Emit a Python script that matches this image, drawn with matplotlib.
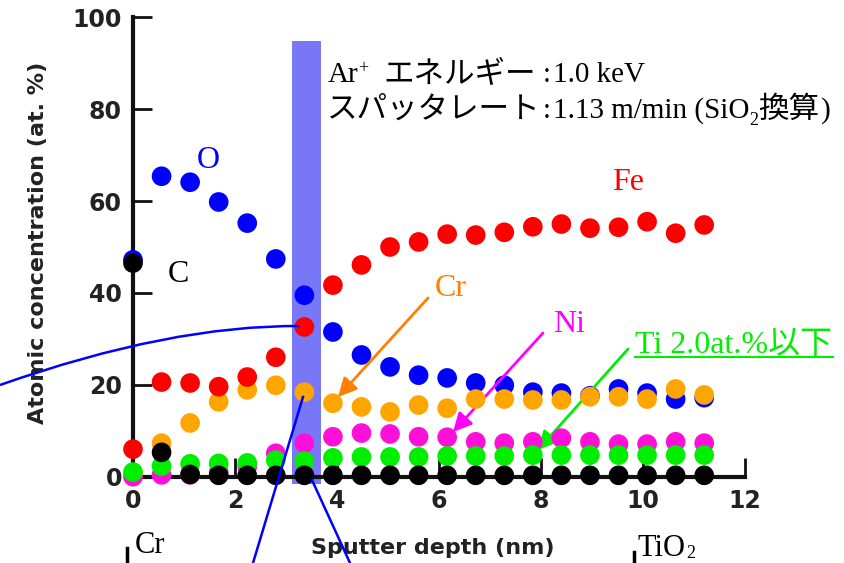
import matplotlib.pyplot as plt
from matplotlib.lines import Line2D
from matplotlib.patches import PathPatch, Rectangle
from matplotlib.path import Path

# sputter depth (nm) and atomic concentrations (at.%)
depth = [0.0, 0.56, 1.12, 1.68, 2.24, 2.80, 3.36, 3.92, 4.48, 5.04, 5.60,
         6.16, 6.72, 7.28, 7.84, 8.40, 8.96, 9.52, 10.08, 10.64, 11.20]
o_vals = [47.2, 65.4, 64.1, 59.8, 55.2, 47.4, 39.5, 31.5, 26.5, 23.9, 22.1,
          21.5, 20.4, 19.9, 18.4, 18.2, 17.6, 19.1, 18.2, 16.9, 17.2]
cr_vals = [0.5, 7.3, 11.7, 16.3, 18.9, 19.9, 18.4, 16.0, 15.2, 14.1, 15.6,
           14.9, 16.9, 16.9, 16.7, 16.7, 17.4, 17.4, 16.9, 19.1, 17.8]
fe_vals = [6.0, 20.6, 20.4, 19.6, 21.7, 26.0, 32.6, 41.7, 46.1, 50.0, 51.1,
           52.8, 52.6, 53.2, 54.4, 55.0, 54.1, 54.3, 55.5, 53.0, 54.8]
ni_vals = [0.0, 0.4, 0.4, 1.0, 2.2, 5.1, 7.3, 8.7, 9.5, 9.3, 8.7,
           8.6, 7.6, 7.3, 7.6, 8.4, 7.6, 7.1, 7.1, 7.6, 7.3]
ti_vals = [1.0, 2.3, 2.8, 2.9, 3.0, 3.6, 3.4, 4.1, 4.3, 4.3, 4.3,
           4.5, 4.5, 4.5, 4.7, 4.7, 4.7, 4.7, 4.7, 4.7, 4.7]
c_vals = [46.5, 5.3, 0.5, 0.3, 0.3, 0.3, 0.3, 0.3, 0.3, 0.3, 0.3,
          0.3, 0.3, 0.3, 0.3, 0.3, 0.3, 0.3, 0.3, 0.3, 0.3]

series = [
    (o_vals, '#0000ff'),
    (cr_vals, '#ffa500'),
    (fe_vals, '#ff0000'),
    (ni_vals, '#ff10d8'),
    (ti_vals, '#00ee00'),
    (c_vals, '#000000'),
]

W, H = 845, 563
SERIF = 'Liberation Serif'
CJK = 'Noto Sans CJK JP'
serif_list = [SERIF, CJK]

fig = plt.figure(figsize=(8.45, 5.63), dpi=100)
ax = fig.add_axes([133 / W, 1 - 476.7 / H, 612 / W, 459.4 / H])
ax.set_xlim(0, 12)
ax.set_ylim(0, 100)

# highlighted depth slice
ax.add_patch(Rectangle((3.12, -1.5), 0.57, 96.3, color='#7878f6',
                       zorder=2, clip_on=False, lw=0))

for i, (vals, col) in enumerate(series):
    ax.scatter(depth, vals, s=200, color=col, edgecolors='none',
               zorder=3 + i, clip_on=False)

for side in ['top', 'right']:
    ax.spines[side].set_visible(False)
for side in ['left', 'bottom']:
    ax.spines[side].set_linewidth(3)
    ax.spines[side].set_color('#111111')
    ax.spines[side].set_zorder(2.5)

ax.set_xticks([0, 2, 4, 6, 8, 10, 12])
ax.set_yticks([0, 20, 40, 60, 80, 100])
ax.tick_params(axis='both', direction='in', length=14, width=2,
               color='#111111', labelsize=17, labelcolor='#222222')
ax.tick_params(axis='y', pad=8)
ax.tick_params(axis='x', pad=9)
for lab in ax.get_xticklabels() + ax.get_yticklabels():
    lab.set_fontweight('bold')

ax.set_ylabel('Atomic concentration (at. %)', fontsize=16, fontweight='bold',
              color='#222222', va='center')
ax.yaxis.set_label_coords(-0.155, 0.51)
ax.set_xlabel('Sputter depth (nm)', fontsize=16, fontweight='bold',
              color='#222222', va='center')
ax.xaxis.set_label_coords(0.49, -0.155)


def put(x, y, s, size=22, family=SERIF, **kw):
    # text placed by its left edge and baseline, in pixels from top-left
    fig.text(x / W, 1 - y / H, s, fontsize=size, family=family,
             ha='left', va='baseline', **kw)


def arrow(x0, y0, x1, y1, col):
    ax.annotate('', xy=(x1, H - y1), xycoords='figure pixels',
                xytext=(x0, H - y0), textcoords='figure pixels',
                arrowprops=dict(arrowstyle='-|>', color=col, lw=2,
                                mutation_scale=28, shrinkA=0, shrinkB=0))


# element labels
fig.text(208 / W, 1 - 160 / H, 'O', color='#0000ff', fontsize=23,
         family=SERIF, ha='center', va='center')
fig.text(178 / W, 1 - 275 / H, 'C', color='black', fontsize=23,
         family=SERIF, ha='center', va='center')
fig.text(628 / W, 1 - 183 / H, 'Fe', color='#ff0000', fontsize=23,
         family=SERIF, ha='center', va='center')
fig.text(451 / W, 1 - 289 / H, 'Cr', color='#ff8000', fontsize=23,
         family=SERIF, ha='center', va='center')
arrow(428, 298, 338, 397, '#ff8000')
fig.text(569 / W, 1 - 325 / H, 'Ni', color='#ff00ff', fontsize=23,
         family=SERIF, ha='center', va='center')
arrow(543, 333, 453, 432, '#ff00ff')
fig.text(635 / W, 1 - 345 / H, 'Ti 2.0at.%以下', color='#00ee00',
         fontsize=23, family=serif_list, ha='left', va='center')
fig.add_artist(Line2D([635 / W, 833 / W], [1 - 357 / H, 1 - 357 / H],
                      color='#00ee00', lw=1.5))
arrow(628, 349, 538, 450, '#00ee00')

# measurement conditions
put(328, 82, 'Ar', 21)
put(358, 73, '+', 13)
put(383, 82, 'エネルギー', 22, CJK)
put(543, 82, ':', 21)
put(553, 82, '1.0 keV', 21)
put(327, 118, 'スパッタレート', 22, CJK)
put(543, 118, ':', 21)
put(553, 118, '1.13 m/min (SiO', 21)
put(749, 125, '2', 13)
put(758, 118, '換算', 22, CJK)
put(821, 118, ')', 21)

# layer labels at the bottom
put(135, 553, 'Cr', 22)
fig.add_artist(Line2D([127 / W, 127 / W], [0, 1 - 548 / H],
                      color='black', lw=2.5))
put(638, 556, 'TiO', 22)
put(686, 558, '2', 13)
fig.add_artist(Line2D([634 / W, 634 / W], [0, 1 - 552 / H],
                      color='black', lw=2.5))

# blue callout lines
curve = Path([(0, 1 - 385 / H), (170 / W, 1 - 325 / H), (300 / W, 1 - 326 / H)],
             [Path.MOVETO, Path.CURVE3, Path.CURVE3])
fig.add_artist(PathPatch(curve, transform=fig.transFigure, fill=False,
                         edgecolor='#0000ff', lw=1.8, zorder=20))
fig.add_artist(Line2D([303 / W, 253 / W], [1 - 397 / H, 0],
                      color='#0000ff', lw=1.8, zorder=20))
fig.add_artist(Line2D([312 / W, 350 / W], [1 - 480 / H, 0],
                      color='#0000ff', lw=1.8, zorder=20))

fig.savefig('out.png', dpi=100)
